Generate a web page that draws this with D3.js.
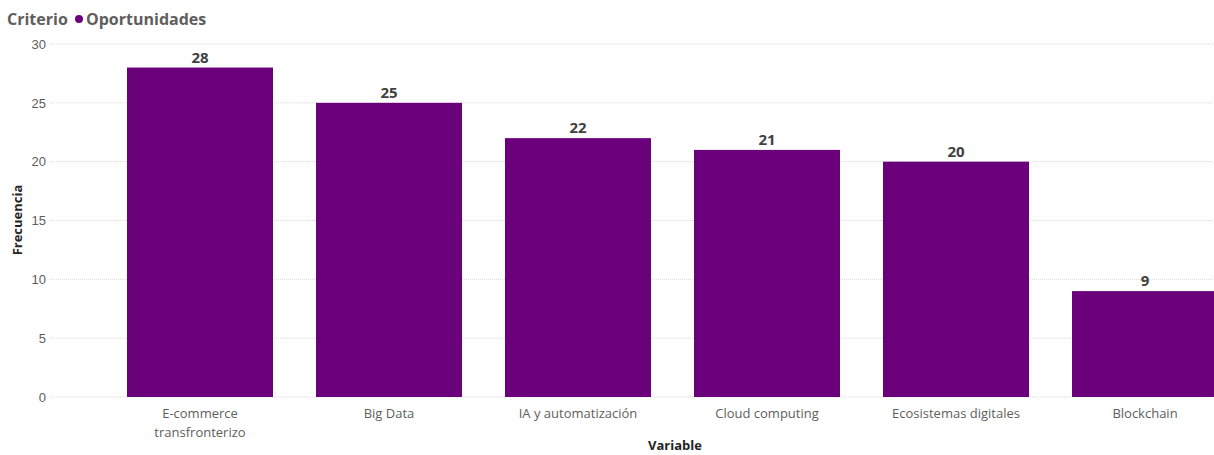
<!DOCTYPE html>
<html>
<head>
<meta charset="utf-8">
<script src="https://cdn.jsdelivr.net/npm/d3@7"></script>
<style>
  body { margin: 0; background: #fff; }
  svg { font-family: "Open Sans", "Noto Sans", sans-serif; }
</style>
</head>
<body>
<div id="chart"></div>
<script>
// data
let categories = ["E-commerce transfronterizo", "Big Data", "IA y automatización", "Cloud computing", "Ecosistemas digitales", "Blockchain"];
let values = [28, 25, 22, 21, 20, 9];
let yTicks = [0, 5, 10, 15, 20, 25, 30];
let seriesName = "Oportunidades";

let width = 1214, height = 455;
let barColor = "#6B007B";

let svg = d3.select("#chart").append("svg")
  .attr("width", width)
  .attr("height", height);

let y = d3.scaleLinear().domain([0, 30]).range([397, 44]);
// last bar runs past the right edge, like in the original
let x = d3.scaleBand().domain(categories).range([105.5, 1239.5]).paddingInner(0.2275).paddingOuter(0.11375);

// gridlines
svg.append("g").selectAll("line")
  .data(yTicks).enter().append("line")
  .attr("x1", 50).attr("x2", width)
  .attr("y1", d => y(d)).attr("y2", d => y(d))
  .attr("stroke", "#d9d9d9")
  .attr("stroke-dasharray", "1,1");

// y axis labels
let yAxis = svg.append("g")
  .attr("transform", "translate(46,0)")
  .call(d3.axisLeft(y).tickValues(yTicks).tickSize(0).tickPadding(0));
yAxis.select(".domain").remove();
yAxis.selectAll("text")
  .attr("fill", "#605E5C")
  .style("font-size", "13px");

// bars
svg.append("g").selectAll("rect")
  .data(values).enter().append("rect")
  .attr("x", (d, i) => x(categories[i]))
  .attr("y", d => y(d))
  .attr("width", x.bandwidth())
  .attr("height", d => y(0) - y(d))
  .attr("fill", barColor);

// value labels
svg.append("g").selectAll("text")
  .data(values).enter().append("text")
  .attr("x", (d, i) => x(categories[i]) + x.bandwidth() / 2)
  .attr("y", d => y(d) - 5)
  .attr("text-anchor", "middle")
  .attr("fill", "#404040")
  .style("font-size", "15px")
  .style("font-weight", "bold")
  .text(d => d);

// x axis labels (wrap the long one)
let xLabels = svg.append("g").selectAll("text")
  .data(categories).enter().append("text")
  .attr("x", d => x(d) + x.bandwidth() / 2)
  .attr("y", 418)
  .attr("text-anchor", "middle")
  .attr("fill", "#605E5C")
  .style("font-size", "13px");
xLabels.each(function(d) {
  let lines = d === "E-commerce transfronterizo" ? ["E-commerce", "transfronterizo"] : [d];
  let t = d3.select(this);
  lines.forEach((l, i) => {
    t.append("tspan").attr("x", t.attr("x")).attr("dy", i === 0 ? 0 : 19).text(l);
  });
});

// axis titles
svg.append("text")
  .attr("x", 675).attr("y", 450)
  .attr("text-anchor", "middle")
  .attr("fill", "#252423")
  .style("font-size", "13px")
  .style("font-weight", "bold")
  .text("Variable");

svg.append("text")
  .attr("transform", "translate(22,220) rotate(-90)")
  .attr("text-anchor", "middle")
  .attr("fill", "#252423")
  .style("font-size", "13px")
  .style("font-weight", "bold")
  .text("Frecuencia");

// legend
let legend = svg.append("g");
legend.append("text")
  .attr("x", 7).attr("y", 25)
  .attr("fill", "#605E5C")
  .style("font-size", "16px")
  .style("font-weight", "bold")
  .text("Criterio");
legend.append("circle")
  .attr("cx", 79).attr("cy", 19).attr("r", 4)
  .attr("fill", barColor);
legend.append("text")
  .attr("x", 86).attr("y", 25)
  .attr("fill", "#605E5C")
  .style("font-size", "16px")
  .style("font-weight", "bold")
  .text(seriesName);
</script>
</body>
</html>
